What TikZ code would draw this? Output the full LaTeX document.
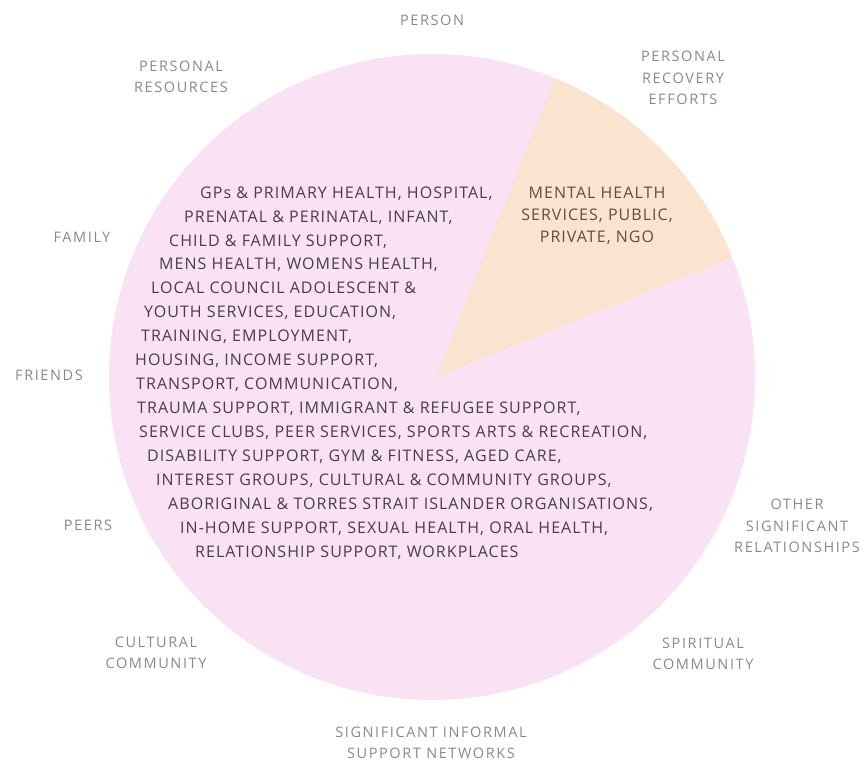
\documentclass[tikz,border=0pt]{standalone}
\usepackage{fontspec}
\setmainfont{Open Sans}
\usetikzlibrary{positioning, calc}
\definecolor{ringpink}{HTML}{F8E2F3}
\definecolor{mhpeach}{HTML}{FBE4CF}
\definecolor{servtext}{HTML}{4B3D48}
\definecolor{mhtext}{HTML}{634A44}
\definecolor{nettext}{HTML}{878A8D}
\tikzset{
	% outer ring of informal supports
	network/.style={align=center, inner sep=0pt, text=nettext, font=\fontsize{14.5}{21.5}\selectfont\addfontfeature{LetterSpace=11}},
	service/.style={anchor=base west, inner sep=0pt, text=servtext, font=\fontsize{16}{24}\selectfont\addfontfeature{LetterSpace=6.5}},
	mhs/.style={align=center, inner sep=0pt, text=mhtext, font=\fontsize{16}{22}\selectfont\addfontfeature{LetterSpace=6.5}},
}

\begin{document}
\begin{tikzpicture}[x=1pt, y=1pt]
			\useasboundingbox (0,0) rectangle (865,-762);
			\coordinate (c) at (432,-377);
			\coordinate (apex) at (436,-377);
			
			\fill[ringpink] (c) circle[radius=323pt];
			\fill[mhpeach] (apex) -- ($(c)+(67.7:323pt)$) arc[start angle=67.7, end angle=21.8, radius=323pt] -- cycle;
			
			\node (mh) [mhs] at (597,-216) {MENTAL HEALTH\\SERVICES, PUBLIC,\\PRIVATE, NGO};
			
			\node (l1) [service] at (200,-198.5) {GPs \& PRIMARY HEALTH, HOSPITAL,};
			\node (l2) [service] at (184,-222.5) {PRENATAL \& PERINATAL, INFANT,};
			\node (l3) [service] at (169,-246.5) {CHILD \& FAMILY SUPPORT,};
			\node (l4) [service] at (159,-269.5) {MENS HEALTH, WOMENS HEALTH,};
			\node (l5) [service] at (151,-293.5) {LOCAL COUNCIL ADOLESCENT \&};
			\node (l6) [service] at (144,-317.5) {YOUTH SERVICES, EDUCATION,};
			\node (l7) [service] at (141,-341.5) {TRAINING, EMPLOYMENT,};
			\node (l8) [service] at (135,-365.5) {HOUSING, INCOME SUPPORT,};
			\node (l9) [service] at (136,-389.5) {TRANSPORT, COMMUNICATION,};
			\node (l10) [service] at (137,-413.5) {TRAUMA SUPPORT, IMMIGRANT \& REFUGEE SUPPORT,};
			\node (l11) [service] at (139,-437.5) {SERVICE CLUBS, PEER SERVICES, SPORTS ARTS \& RECREATION,};
			\node (l12) [service] at (147,-461.5) {DISABILITY SUPPORT, GYM \& FITNESS, AGED CARE,};
			\node (l13) [service] at (156,-485.5) {INTEREST GROUPS, CULTURAL \& COMMUNITY GROUPS,};
			\node (l14) [service] at (168,-509.5) {ABORIGINAL \& TORRES STRAIT ISLANDER ORGANISATIONS,};
			\node (l15) [service] at (180,-533.5) {IN-HOME SUPPORT, SEXUAL HEALTH, ORAL HEALTH,};
			\node (l16) [service] at (195,-557.5) {RELATIONSHIP SUPPORT, WORKPLACES};
			
			\node (person) [network] at (432,-20) {PERSON};
			\node (recovery) [network] at (683,-78) {PERSONAL\\RECOVERY\\EFFORTS};
			\node (resources) [network] at (181,-77) {PERSONAL\\RESOURCES};
			\node (family) [network] at (82,-237) {FAMILY};
			\node (friends) [network] at (49,-375) {FRIENDS};
			\node (peers) [network] at (88,-525) {PEERS};
			\node (cultural) [network] at (156,-653) {CULTURAL\\COMMUNITY};
			\node (spiritual) [network] at (703,-654) {SPIRITUAL\\COMMUNITY};
			\node (other) [network] at (797,-526) {OTHER\\SIGNIFICANT\\RELATIONSHIPS};
			\node (informal) [network] at (431,-743) {SIGNIFICANT INFORMAL\\SUPPORT NETWORKS};
		\end{tikzpicture}
\end{document}
